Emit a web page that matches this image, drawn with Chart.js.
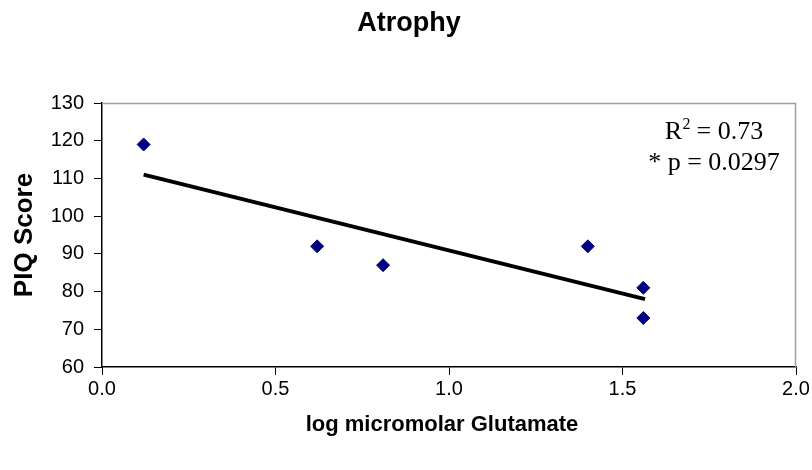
<!DOCTYPE html>
<html>
<head>
<meta charset="utf-8">
<script src="https://cdn.jsdelivr.net/npm/chart.js@4"></script>
<style>
  html, body { margin: 0; padding: 0; background: #ffffff; }
  #wrap { width: 812px; height: 470px; }
</style>
</head>
<body>
<div id="wrap"><canvas id="c" width="812" height="470"></canvas></div>
<script>
// ---- data ----
const glutamateLog = [0.12, 0.62, 0.81, 1.40, 1.56, 1.56];
const piqScore     = [119, 92, 87, 92, 81, 73];
const trendX       = [0.12, 1.565];
const trendY       = [111, 78];
const xTicks       = [0.0, 0.5, 1.0, 1.5, 2.0];
const yTicks       = [60, 70, 80, 90, 100, 110, 120, 130];
const chartTitle   = 'Atrophy';
const xTitle       = 'log micromolar Glutamate';
const yTitle       = 'PIQ Score';
const statLine1    = ['R', '2', ' = 0.73'];
const statLine2    = '* p = 0.0297';

const points = glutamateLog.map((x, i) => ({ x: x, y: piqScore[i] }));
const trend  = trendX.map((x, i) => ({ x: x, y: trendY[i] }));

const SANS = '"Liberation Sans", Arial, sans-serif';
const SERIF = '"Liberation Serif", "Times New Roman", serif';

const frameAndText = {
  id: 'frameAndText',
  afterDatasetsDraw(chart) {
    const { ctx, chartArea: a } = chart;
    ctx.save();
    // grey plot frame (top and right)
    ctx.strokeStyle = '#a0a0a0';
    ctx.lineWidth = 1.5;
    ctx.beginPath();
    ctx.moveTo(a.left, a.top + 0.5);
    ctx.lineTo(a.right - 0.5, a.top + 0.5);
    ctx.lineTo(a.right - 0.5, a.bottom);
    ctx.stroke();

    ctx.fillStyle = '#000000';
    ctx.textBaseline = 'alphabetic';

    // chart title
    ctx.font = 'bold 27px ' + SANS;
    ctx.textAlign = 'center';
    ctx.fillText(chartTitle, 409, 31);

    // x axis title
    ctx.font = 'bold 22px ' + SANS;
    ctx.fillText(xTitle, 442, 431);

    // statistics annotation
    const big = '26px ' + SERIF;
    const small = '16px ' + SERIF;
    const cx = a.right - 82;
    const y1 = a.top + 36;
    const y2 = a.top + 67;
    ctx.font = big;
    const wR = ctx.measureText(statLine1[0]).width;
    const wRest = ctx.measureText(statLine1[2]).width;
    ctx.font = small;
    const wSup = ctx.measureText(statLine1[1]).width;
    let x = cx - (wR + wSup + wRest) / 2;
    ctx.font = big;
    ctx.textAlign = 'left';
    ctx.fillText(statLine1[0], x, y1);
    ctx.font = small;
    ctx.fillText(statLine1[1], x + wR + 0.5, y1 - 10);
    ctx.font = big;
    ctx.fillText(statLine1[2], x + wR + wSup, y1);
    ctx.textAlign = 'center';
    ctx.fillText(statLine2, cx, y2);
    ctx.restore();
  }
};

new Chart(document.getElementById('c'), {
  type: 'scatter',
  data: {
    datasets: [
      {
        label: 'PIQ',
        data: points,
        pointStyle: 'rectRot',
        pointRadius: 6.5,
        pointHoverRadius: 6.5,
        backgroundColor: '#000080',
        borderColor: '#000080',
        borderWidth: 1,
        showLine: false
      },
      {
        label: 'Trend',
        data: trend,
        showLine: true,
        borderColor: '#000000',
        borderWidth: 4,
        pointRadius: 0,
        fill: false
      }
    ]
  },
  options: {
    responsive: false,
    animation: false,
    events: [],
    layout: { padding: { left: 0, right: 16, top: 103, bottom: 0 } },
    plugins: {
      legend: { display: false },
      tooltip: { enabled: false },
      title: { display: false }
    },
    scales: {
      x: {
        type: 'linear',
        min: 0,
        max: 2,
        afterBuildTicks(scale) { scale.ticks = xTicks.map(v => ({ value: v })); },
        afterFit(scale) { scale.height = 103; },
        ticks: {
          color: '#000000',
          font: { family: SANS, size: 20 },
          padding: 2,
          maxRotation: 0,
          callback: v => Number(v).toFixed(1)
        },
        grid: { drawOnChartArea: false, drawTicks: true, tickLength: 8, color: '#000000', tickColor: '#000000' },
        border: { display: true, color: '#000000', width: 1.5 },
        title: { display: false }
      },
      y: {
        type: 'linear',
        min: 60,
        max: 130,
        afterBuildTicks(scale) { scale.ticks = yTicks.map(v => ({ value: v })); },
        afterFit(scale) { scale.width = 102; },
        ticks: {
          color: '#000000',
          font: { family: SANS, size: 20 },
          padding: 10
        },
        grid: { drawOnChartArea: false, drawTicks: true, tickLength: 8, color: '#000000', tickColor: '#000000' },
        border: { display: true, color: '#000000', width: 1.5 },
        title: {
          display: true,
          text: yTitle,
          color: '#000000',
          font: { family: SANS, size: 26, weight: 'bold' },
          padding: { top: 9, bottom: 0 }
        }
      }
    }
  },
  plugins: [frameAndText]
});
</script>
</body>
</html>
